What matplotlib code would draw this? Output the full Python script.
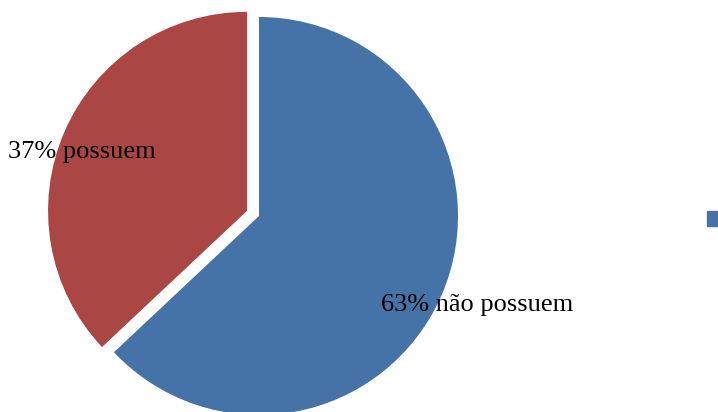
import matplotlib.pyplot as plt
from matplotlib.patches import Rectangle

# share of respondents
labels = ['não possuem', 'possuem']
values = [63, 37]
colors = ['#4572A7', '#AA4643']

fig = plt.figure(figsize=(7.18, 4.12), dpi=100)
ax = fig.add_axes([0, 0, 1, 1])

# explode is in data units here (axes are in pixels)
wedges, _ = ax.pie(values, colors=colors, startangle=90, counterclock=False,
                   explode=[0, 13], center=(259, 196), radius=199,
                   wedgeprops=dict(linewidth=0))
ax.set_xlim(0, 718)
ax.set_ylim(0, 412)
ax.set_aspect('equal')
ax.axis('off')

font = dict(family='Liberation Serif', size=19.0, color='black')
ax.text(381, 107, f"{values[0]}% {labels[0]}", ha='left', va='center', **font)
ax.text(8, 260, f"{values[1]}% {labels[1]}", ha='left', va='center', **font)

# legend key, mostly outside the canvas
fig.patches.append(Rectangle((707 / 718, 186 / 412), 15 / 718, 15 / 412,
                             transform=fig.transFigure, color=colors[0]))

plt.savefig('out.png', dpi=100)
